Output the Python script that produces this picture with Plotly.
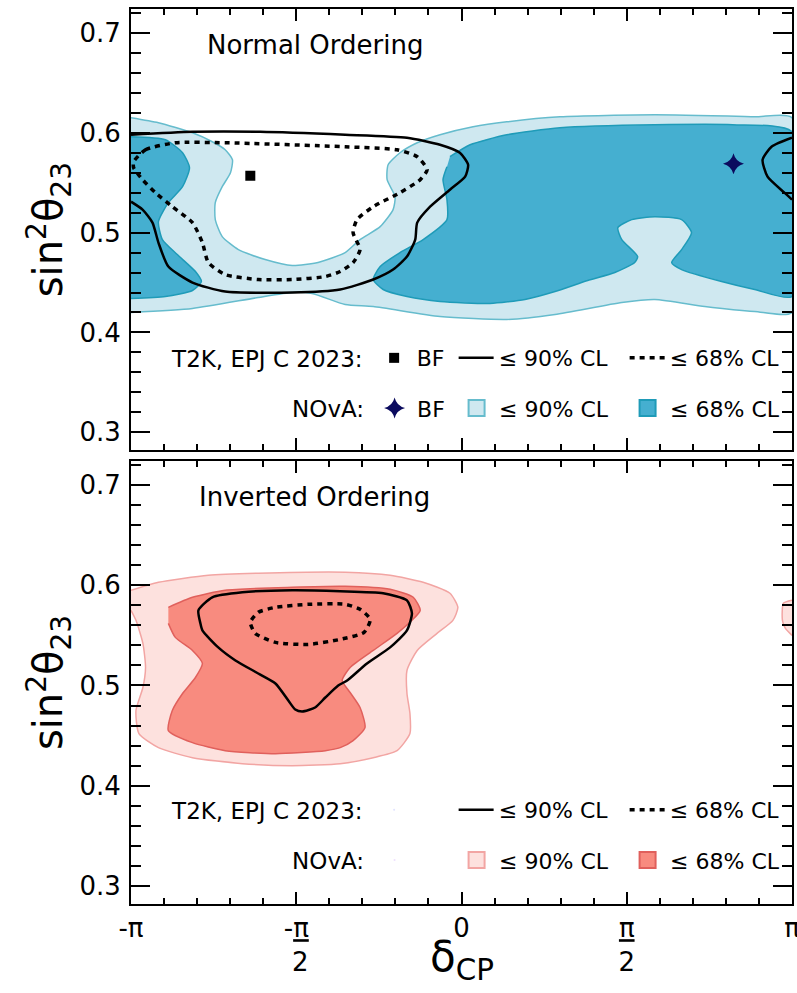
import plotly.graph_objects as go

# delta_CP is expressed in units of pi on the x axes
# ---------------- Normal Ordering ----------------
no_nova90_d = [-1, -0.917, -0.814, -0.754, -0.715, -0.693, -0.699, -0.724, -0.745, -0.745,
               -0.724, -0.675, -0.594, -0.512, -0.434, -0.352, -0.307, -0.246, -0.207, -0.201,
               -0.225, -0.222, -0.186, -0.134, -0.065, 0.035, 0.137, 0.298, 0.585, 0.887, 1.0,
               1.0, 0.887, 0.736, 0.585, 0.485, 0.283, 0.137, -0.065, -0.267, -0.352,
               -0.452, -0.512, -0.615, -0.814, -1.0]
no_nova90_s = [0.615, 0.610, 0.600, 0.591, 0.583, 0.573, 0.560, 0.546, 0.530, 0.513,
               0.496, 0.483, 0.473, 0.467, 0.470, 0.480, 0.493, 0.506, 0.523, 0.536,
               0.553, 0.568, 0.580, 0.590, 0.598, 0.606, 0.611, 0.616, 0.618, 0.616, 0.615,
               0.420, 0.421, 0.426, 0.433, 0.430, 0.418, 0.413, 0.416, 0.426, 0.428,
               0.439, 0.440, 0.435, 0.424, 0.420]

no_nova68_left_d = [-1, -0.896, -0.844, -0.823, -0.844, -0.887, -0.917, -0.905, -0.860, -0.805,
                    -0.787, -0.814, -0.896, -1]
no_nova68_left_s = [0.596, 0.593, 0.580, 0.565, 0.546, 0.530, 0.511, 0.493, 0.478, 0.461,
                    0.451, 0.442, 0.436, 0.434]
no_nova68_right_d = [-0.035, 0.026, 0.137, 0.298, 0.585, 0.820, 1, 1, 0.887, 0.787,
                     0.666, 0.636, 0.666, 0.696, 0.666, 0.585, 0.515, 0.473, 0.485, 0.533,
                     0.524, 0.464, 0.382, 0.283, 0.192, 0.086, -0.065, -0.165, -0.237, -0.267,
                     -0.246, -0.186, -0.116, -0.044, -0.044, -0.056, -0.044]
no_nova68_right_s = [0.576, 0.588, 0.598, 0.605, 0.608, 0.608, 0.601, 0.436, 0.443, 0.451,
                     0.463, 0.470, 0.483, 0.500, 0.513, 0.516, 0.513, 0.505, 0.493, 0.476,
                     0.470, 0.460, 0.452, 0.441, 0.433, 0.429, 0.431, 0.436, 0.443, 0.453,
                     0.466, 0.480, 0.493, 0.513, 0.533, 0.553, 0.566]

no_t2k90_d = [-1, -0.814, -0.609, -0.352, -0.165, -0.065, -0.005, 0.020, 0.011, -0.035,
              -0.095, -0.134, -0.140, -0.165, -0.207, -0.267, -0.367, -0.512, -0.715, -0.814,
              -0.887, -0.917, -0.935, -0.965, -1]
no_t2k90_s = [0.598, 0.601, 0.601, 0.598, 0.595, 0.588, 0.580, 0.568, 0.556, 0.543,
              0.526, 0.510, 0.493, 0.476, 0.463, 0.453, 0.443, 0.440, 0.441, 0.450,
              0.466, 0.490, 0.510, 0.523, 0.531]
no_t2k90_edge_d = [1, 0.938, 0.911, 0.926, 0.977, 1]
no_t2k90_edge_s = [0.595, 0.586, 0.573, 0.556, 0.540, 0.533]

no_t2k68_d = [-0.992, -0.956, -0.866, -0.715, -0.352, -0.195, -0.134, -0.104, -0.125, -0.186,
              -0.267, -0.316, -0.328, -0.307, -0.328, -0.367, -0.412, -0.512, -0.615, -0.715,
              -0.766, -0.784, -0.814, -0.875, -0.926, -0.965, -0.992, -0.992]
no_t2k68_s = [0.571, 0.583, 0.590, 0.590, 0.586, 0.583, 0.576, 0.563, 0.553, 0.540,
              0.526, 0.513, 0.500, 0.483, 0.470, 0.461, 0.456, 0.453, 0.453, 0.458,
              0.470, 0.490, 0.510, 0.526, 0.540, 0.553, 0.565, 0.571]

t2k_bf_d = [-0.639]
t2k_bf_s = [0.557]
nova_bf_d = [0.823]
nova_bf_s = [0.569]

# ---------------- Inverted Ordering ----------------
io_nova90_d = [-1, -0.917, -0.766, -0.615, -0.352, -0.216, -0.116, -0.035, -0.011, -0.026,
               -0.074, -0.134, -0.165, -0.165, -0.156, -0.156, -0.195, -0.267, -0.367, -0.512,
               -0.663, -0.814, -0.917, -0.976, -0.985, -0.964, -0.956, -0.964, -0.985, -1]
io_nova90_s = [0.595, 0.603, 0.610, 0.612, 0.613, 0.610, 0.603, 0.592, 0.578, 0.565,
               0.552, 0.535, 0.515, 0.492, 0.472, 0.452, 0.435, 0.428, 0.422, 0.420,
               0.422, 0.428, 0.438, 0.452, 0.475, 0.498, 0.518, 0.542, 0.565, 0.575]
io_nova90_edge_d = [1, 0.974, 0.971, 0.980, 1]
io_nova90_edge_s = [0.585, 0.582, 0.565, 0.557, 0.550]

io_nova68_d = [-0.887, -0.814, -0.715, -0.512, -0.352, -0.216, -0.146, -0.125, -0.150, -0.195,
               -0.267, -0.337, -0.361, -0.337, -0.307, -0.292, -0.328, -0.367, -0.412, -0.563,
               -0.715, -0.814, -0.887, -0.875, -0.844, -0.805, -0.784, -0.814, -0.866, -0.887]
io_nova68_s = [0.578, 0.588, 0.595, 0.598, 0.599, 0.596, 0.588, 0.575, 0.565, 0.552,
               0.535, 0.518, 0.505, 0.493, 0.478, 0.458, 0.445, 0.438, 0.435, 0.432,
               0.435, 0.443, 0.455, 0.475, 0.492, 0.508, 0.522, 0.535, 0.548, 0.562]

io_t2k90_d = [-0.790, -0.796, -0.754, -0.663, -0.512, -0.367, -0.237, -0.165, -0.150, -0.165,
              -0.216, -0.286, -0.346, -0.373, -0.412, -0.443, -0.482, -0.503, -0.524, -0.563,
              -0.615, -0.684, -0.736, -0.784, -0.790]
io_t2k90_s = [0.562, 0.575, 0.588, 0.593, 0.595, 0.594, 0.592, 0.585, 0.572, 0.555,
              0.538, 0.522, 0.505, 0.500, 0.488, 0.478, 0.474, 0.476, 0.485, 0.502,
              0.512, 0.525, 0.538, 0.555, 0.562]

io_t2k68_d = [-0.639, -0.615, -0.563, -0.464, -0.352, -0.307, -0.276, -0.295, -0.367, -0.464,
              -0.563, -0.624, -0.639]
io_t2k68_s = [0.563, 0.573, 0.578, 0.581, 0.581, 0.576, 0.566, 0.553, 0.546, 0.541,
              0.543, 0.552, 0.563]

x_tickvals = [-1, -0.5, 0, 0.5, 1]
x_ticktext = ["-π", "-<u>π</u><br>\u00a02", "0", "<u>π</u><br>2", "π"]
y_tickvals = [0.3, 0.4, 0.5, 0.6, 0.7]
y_ticktext = ["0.3", "0.4", "0.5", "0.6", "0.7"]
x_minor = [round(-1 + 0.1 * i, 2) for i in range(21)]

# ---------------- styles ----------------
FONT = "DejaVu Sans"
NO_LIGHT, NO_LIGHT_LINE = "#cfe8f0", "#66bccd"
NO_DARK, NO_DARK_LINE = "#45afd0", "#1f9bb8"
IO_LIGHT, IO_LIGHT_LINE = "#fde1de", "#f2a5a3"
IO_DARK, IO_DARK_LINE = "#f88b7f", "#e0605c"
DOT = "5px,5px"
W1, W2, W3 = 32, 121, 107   # legend entry widths (columns)


def join(*parts):
    xs, ys = [], []
    for i, (a, b) in enumerate(parts):
        if i:
            xs.append(None)
            ys.append(None)
        xs += a
        ys += b
    return xs, ys


fig = go.Figure()

# ---- Normal ordering panel (x, y) ----
fig.add_trace(go.Scatter(x=no_nova90_d, y=no_nova90_s, mode="lines", fill="toself",
                         fillcolor=NO_LIGHT, line=dict(color=NO_LIGHT_LINE, width=1.5, shape="spline", smoothing=0.6),
                         showlegend=False, xaxis="x", yaxis="y", hoverinfo="skip"))
xs, ys = join((no_nova68_left_d, no_nova68_left_s), (no_nova68_right_d, no_nova68_right_s))
fig.add_trace(go.Scatter(x=xs, y=ys, mode="lines", fill="toself",
                         fillcolor=NO_DARK, line=dict(color=NO_DARK_LINE, width=1.5, shape="spline", smoothing=0.6),
                         showlegend=False, xaxis="x", yaxis="y", hoverinfo="skip"))
xs, ys = join((no_t2k90_d, no_t2k90_s), (no_t2k90_edge_d, no_t2k90_edge_s))
fig.add_trace(go.Scatter(x=t2k_bf_d, y=t2k_bf_s, mode="markers", name="BF",
                         marker=dict(symbol="square", size=10, color="black"),
                         legend="legend", legendwidth=W1, xaxis="x", yaxis="y"))
fig.add_trace(go.Scatter(x=xs, y=ys, mode="lines", name="≤ 90% CL",
                         line=dict(color="black", width=2.5, shape="spline", smoothing=0.6),
                         legend="legend", legendwidth=W2, xaxis="x", yaxis="y"))
fig.add_trace(go.Scatter(x=no_t2k68_d, y=no_t2k68_s, mode="lines", name="≤ 68% CL",
                         line=dict(color="black", width=3.5, dash=DOT, shape="spline", smoothing=0.6),
                         legend="legend", legendwidth=W3, xaxis="x", yaxis="y"))
fig.add_trace(go.Scatter(x=nova_bf_d, y=nova_bf_s, mode="markers", name="BF",
                         marker=dict(symbol="star-diamond", size=15, color="#0b0b5e"),
                         legend="legend2", legendwidth=W1, xaxis="x", yaxis="y"))
fig.add_trace(go.Scatter(x=[None], y=[None], mode="markers", name="≤ 90% CL",
                         marker=dict(symbol="square", size=16, color=NO_LIGHT,
                                     line=dict(color=NO_LIGHT_LINE, width=2)),
                         legend="legend2", legendwidth=W2, xaxis="x", yaxis="y"))
fig.add_trace(go.Scatter(x=[None], y=[None], mode="markers", name="≤ 68% CL",
                         marker=dict(symbol="square", size=16, color=NO_DARK,
                                     line=dict(color=NO_DARK_LINE, width=2)),
                         legend="legend2", legendwidth=W3, xaxis="x", yaxis="y"))

# ---- Inverted ordering panel (x2, y2) ----
xs, ys = join((io_nova90_d, io_nova90_s), (io_nova90_edge_d, io_nova90_edge_s))
fig.add_trace(go.Scatter(x=xs, y=ys, mode="lines", fill="toself",
                         fillcolor=IO_LIGHT, line=dict(color=IO_LIGHT_LINE, width=1.5, shape="spline", smoothing=0.6),
                         showlegend=False, xaxis="x2", yaxis="y2", hoverinfo="skip"))
fig.add_trace(go.Scatter(x=io_nova68_d, y=io_nova68_s, mode="lines", fill="toself",
                         fillcolor=IO_DARK, line=dict(color=IO_DARK_LINE, width=1.5, shape="spline", smoothing=0.6),
                         showlegend=False, xaxis="x2", yaxis="y2", hoverinfo="skip"))
fig.add_trace(go.Scatter(x=[None], y=[None], mode="markers", name="\u00a0",
                         marker=dict(size=1, opacity=0),
                         legend="legend3", legendwidth=W1, xaxis="x2", yaxis="y2"))
fig.add_trace(go.Scatter(x=io_t2k90_d, y=io_t2k90_s, mode="lines", name="≤ 90% CL",
                         line=dict(color="black", width=2.5, shape="spline", smoothing=0.6),
                         legend="legend3", legendwidth=W2, xaxis="x2", yaxis="y2"))
fig.add_trace(go.Scatter(x=io_t2k68_d, y=io_t2k68_s, mode="lines", name="≤ 68% CL",
                         line=dict(color="black", width=3.5, dash=DOT, shape="spline", smoothing=0.6),
                         legend="legend3", legendwidth=W3, xaxis="x2", yaxis="y2"))
fig.add_trace(go.Scatter(x=[None], y=[None], mode="markers", name="\u00a0",
                         marker=dict(size=1, opacity=0),
                         legend="legend4", legendwidth=W1, xaxis="x2", yaxis="y2"))
fig.add_trace(go.Scatter(x=[None], y=[None], mode="markers", name="≤ 90% CL",
                         marker=dict(symbol="square", size=16, color=IO_LIGHT,
                                     line=dict(color=IO_LIGHT_LINE, width=2)),
                         legend="legend4", legendwidth=W2, xaxis="x2", yaxis="y2"))
fig.add_trace(go.Scatter(x=[None], y=[None], mode="markers", name="≤ 68% CL",
                         marker=dict(symbol="square", size=16, color=IO_DARK,
                                     line=dict(color=IO_DARK_LINE, width=2)),
                         legend="legend4", legendwidth=W3, xaxis="x2", yaxis="y2"))

# ---------------- axes ----------------
common_x = dict(range=[-1, 1], tickmode="array", tickvals=x_tickvals, ticktext=x_ticktext,
                ticks="inside", ticklen=12, tickwidth=2, tickcolor="black",
                minor=dict(tickmode="array", tickvals=x_minor, ticks="inside", ticklen=6,
                           tickwidth=1.5, tickcolor="black"),
                showline=True, linecolor="black", linewidth=2, mirror="allticks",
                showgrid=False, zeroline=False, ticklabeloverflow="allow",
                tickfont=dict(family=FONT, size=26, color="black"))
common_y = dict(range=[0.282, 0.724], tickmode="array", tickvals=y_tickvals, ticktext=y_ticktext,
                ticks="inside", ticklen=19, tickwidth=2, tickcolor="black",
                minor=dict(dtick=0.02, tick0=0, ticks="inside", ticklen=10,
                           tickwidth=1.5, tickcolor="black"),
                showline=True, linecolor="black", linewidth=2, mirror="allticks",
                showgrid=False, zeroline=False, ticklabelstandoff=3,
                tickfont=dict(family=FONT, size=26, color="black"),
                title=dict(text="sin<sup>2</sup>θ<sub>23</sub>", standoff=4,
                           font=dict(family=FONT, size=40, color="black")))

fig.update_layout(
    xaxis=dict(common_x, anchor="y", showticklabels=False),
    yaxis=dict(common_y, anchor="x", domain=[0.507, 1.0]),
    xaxis2=dict(common_x, anchor="y2"),
    yaxis2=dict(common_y, anchor="x2", domain=[0.0, 0.495]),
)

leg = dict(orientation="h", xanchor="right", x=0.985, yanchor="middle",
           bgcolor="rgba(0,0,0,0)", itemwidth=35, itemclick=False,
           font=dict(family=FONT, size=22, color="black"))
fig.update_layout(
    legend=dict(leg, y=0.610, title=dict(text="T2K, EPJ C 2023:", side="left",
                                          font=dict(family=FONT, size=23))),
    legend2=dict(leg, y=0.554, title=dict(text="NOvA:", side="left",
                                           font=dict(family=FONT, size=23))),
    legend3=dict(leg, y=0.105, title=dict(text="T2K, EPJ C 2023:", side="left",
                                           font=dict(family=FONT, size=23))),
    legend4=dict(leg, y=0.049, title=dict(text="NOvA:", side="left",
                                           font=dict(family=FONT, size=23))),
)

fig.add_annotation(text="Normal Ordering", xref="x domain", yref="y domain", x=0.112, y=0.918,
                   xanchor="left", yanchor="middle", showarrow=False,
                   font=dict(family=FONT, size=26, color="black"))
fig.add_annotation(text="Inverted Ordering", xref="x2 domain", yref="y2 domain", x=0.100, y=0.919,
                   xanchor="left", yanchor="middle", showarrow=False,
                   font=dict(family=FONT, size=26, color="black"))
# x-axis title (placed as in the reference, overlapping the fraction labels' height)
fig.add_annotation(text="δ<sub>CP</sub>", xref="x2 domain", yref="y2 domain", x=0.5, y=-0.125,
                   xanchor="center", yanchor="middle", showarrow=False,
                   font=dict(family=FONT, size=42, color="black"))

fig.update_layout(width=797, height=993, margin=dict(l=131, r=5, t=9, b=89, autoexpand=False),
                  paper_bgcolor="white", plot_bgcolor="white",
                  font=dict(family=FONT, color="black"))

fig.write_html("out.html", config={"displayModeBar": False},
               post_script="document.body.style.margin='0';document.body.style.padding='0';")
